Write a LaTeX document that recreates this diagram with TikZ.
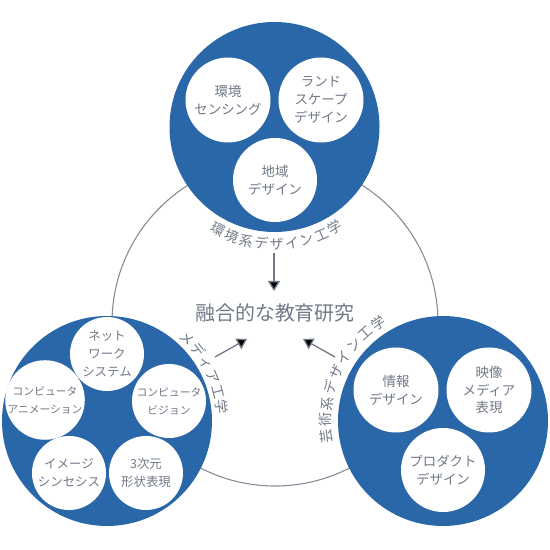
\documentclass[tikz,border=0pt]{standalone}
\usepackage{fontspec}
\newfontfamily\jpfont{Noto Sans CJK JP}
\usetikzlibrary{positioning, arrows.meta, calc, decorations.text}
\definecolor{deepblue}{RGB}{42,103,168}
\definecolor{slate}{RGB}{113,121,135}
\newcommand{\arcfont}{\jpfont\fontsize{14}{14}\selectfont}

\begin{document}
\begin{tikzpicture}[
    x=1bp, y=1bp,
    field/.style={circle, fill=deepblue, inner sep=0pt, minimum size=210bp},
    topic/.style={circle, fill=white, inner sep=0pt, minimum size=85bp, align=center, text=slate, font=\jpfont\fontsize{13.5}{18}\selectfont},
    subtopic/.style={topic, minimum size=74bp, font=\jpfont\fontsize{12.5}{18}\selectfont},
    arr/.style={-{Triangle[width=12bp,length=10bp]}, line width=1.3bp, draw=slate},
    arclabel/.style={decorate, decoration={text along path, text align=fit to path, text color=slate, text={#1}}}
]
    \useasboundingbox (0,0) rectangle (550,550);

    \node[circle, draw=slate!85, line width=1.1bp, minimum size=326bp] (ring) at (275,227) {};

    % three fields
    \node[field] (envc) at (274.5,423) {};
    \node[field] (mediac) at (107,129) {};
    \node[field] (artc) at (443,129) {};

    \node[topic] (sensing) at (228,450) {環境\\センシング};
    \node[topic] (landscape) at (321,450) {ランド\\スケープ\\デザイン};
    \node[topic, minimum size=84bp] (region) at (275,370) {地域\\デザイン};

    \node[subtopic] (network) at (107,196) {ネット\\ワーク\\システム};
    \node[subtopic, font=\jpfont\fontsize{10.8}{18}\selectfont] (cganim) at (45,150) {コンピュータ\\アニメーション};
    \node[subtopic, font=\jpfont\fontsize{10.8}{18}\selectfont] (cvision) at (169,149) {コンピュータ\\ビジョン};
    \node[subtopic] (synth) at (69,77) {イメージ\\シンセシス};
    \node[subtopic] (shape) at (146,77) {3次元\\形状表現};

    \node[topic] (infodes) at (396,160) {情報\\デザイン};
    \node[topic] (video) at (489,160) {映像\\メディア\\表現};
    \node[topic, minimum size=84bp] (product) at (443,80) {プロダクト\\デザイン};

    % labels along the fields
    \path[arclabel={|\arcfont|環境系デザイン工学}] ($(envc)+(237.9:122.5)$) arc[start angle=237.9, end angle=304.3, radius=122.5];
    \path[arclabel={|\arcfont|メディア工学}] ($(mediac)+(49.5:110)$) arc[start angle=49.5, end angle=3.4, radius=110];
    \path[arclabel={|\arcfont|芸術系デザイン工学}] ($(artc)+(191:112)$) arc[start angle=191, end angle=120, radius=112];

    \node[text=slate, font=\jpfont\fontsize{20}{20}\selectfont] (fusion) at (275,237) {融合的な教育研究};

    \coordinate (envtail) at (274,297);
    \coordinate (envtip) at (274,259);
    \coordinate (mediatail) at (215,193);
    \coordinate (mediatip) at (247,211);
    \coordinate (arttail) at (335,193);
    \coordinate (arttip) at (303,211);

    \draw[arr] (envtail) -- (envtip);
    \draw[arr] (mediatail) -- (mediatip);
    \draw[arr] (arttail) -- (arttip);
\end{tikzpicture}
\end{document}
